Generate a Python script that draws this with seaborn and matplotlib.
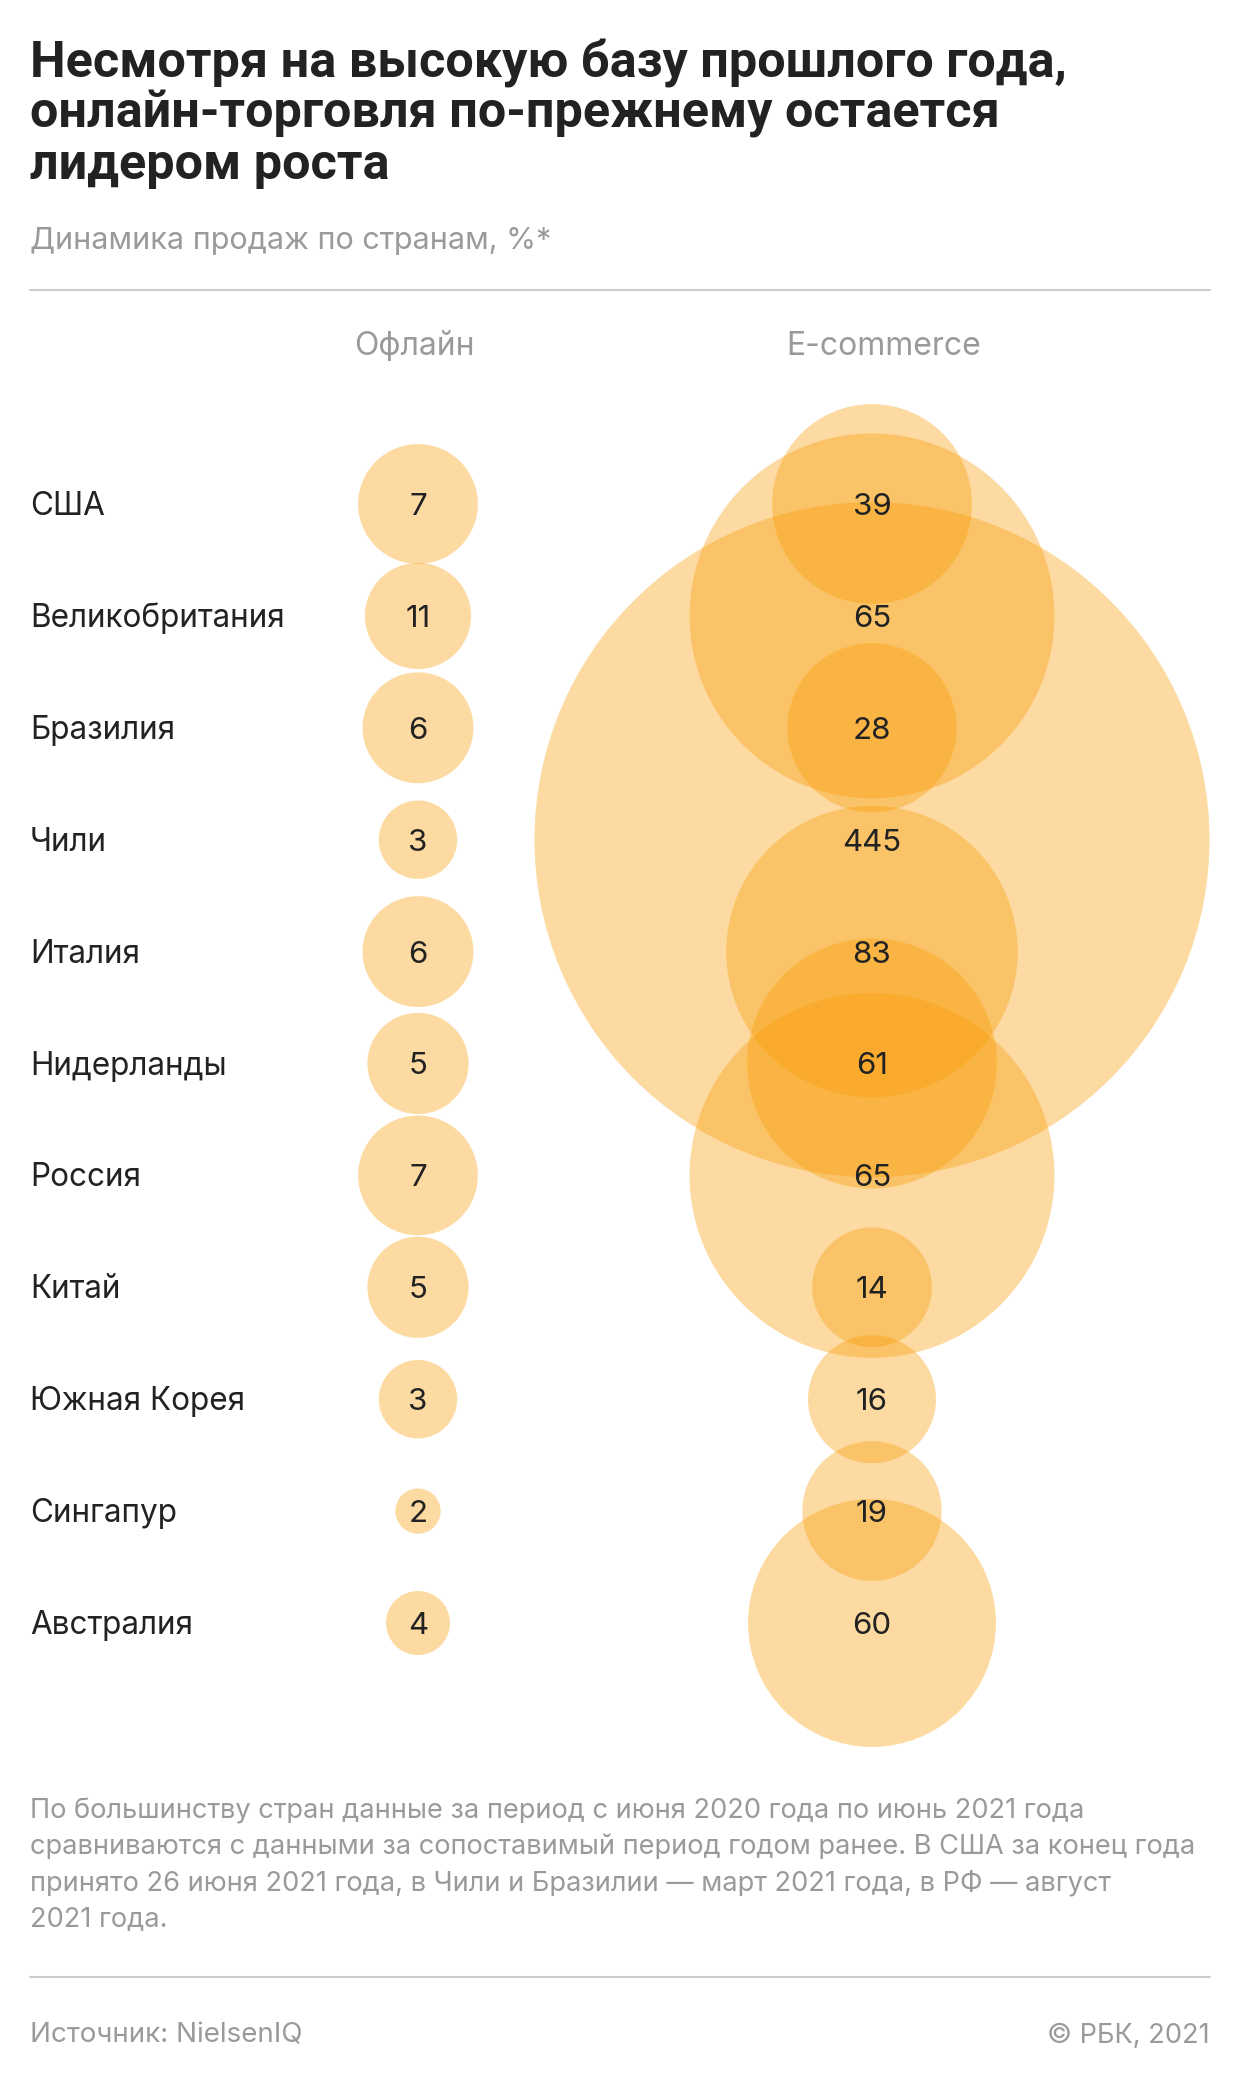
import matplotlib
matplotlib.use("Agg")
import matplotlib.pyplot as plt
import matplotlib.transforms as mtransforms
import seaborn as sns
import pandas as pd

# ---------------- data ----------------
countries = ["США", "Великобритания", "Бразилия", "Чили", "Италия", "Нидерланды",
             "Россия", "Китай", "Южная Корея", "Сингапур", "Австралия"]
columns = ["Офлайн", "E-commerce"]
offline_labels = [7, 11, 6, 3, 6, 5, 7, 5, 3, 2, 4]
ecom_labels = [39, 65, 28, 445, 83, 61, 65, 14, 16, 19, 60]
# bubble magnitudes as drawn in the reference (area-proportional)
offline_bubble = [14, 11, 12, 6, 12, 10, 14, 10, 6, 2, 4]
ecom_bubble = [39, 130, 28, 445, 83, 61, 130, 14, 16, 19, 60]

title_lines = ["Несмотря на высокую базу прошлого года,",
               "онлайн-торговля по-прежнему остается",
               "лидером роста"]
subtitle = "Динамика продаж по странам, %*"
footnote_lines = [
    "По большинству стран данные за период с июня 2020 года по июнь 2021 года",
    "сравниваются с данными за сопоставимый период годом ранее. В США за конец года",
    "принято 26 июня 2021 года, в Чили и Бразилии — март 2021 года, в РФ — август",
    "2021 года.",
]
source_txt = "Источник: NielsenIQ"
copyright_txt = "© РБК, 2021"

# ---------------- style ----------------
W, H = 1240, 2084
DARK = "#222222"
GRAY = "#9a9a9a"
RULE = "#cccccc"
BUBBLE = "#FA9E0A"
BODY = ["Inter", "DejaVu Sans"]
HEAD = ["Roboto", "DejaVu Sans"]

sns.set_theme(style="white")
plt.rcParams["font.family"] = BODY

df = pd.DataFrame({
    "kind": [columns[0]] * len(countries) + [columns[1]] * len(countries),
    "country": countries + countries,
    "label": offline_labels + ecom_labels,
    "bubble": offline_bubble + ecom_bubble,
})

fig = plt.figure(figsize=(W / 100, H / 100), dpi=100)
fig.patch.set_facecolor("white")
ax = fig.add_axes([0, 0, 1, 1])
ax.set_axis_off()

# size: radius 16 px per sqrt(unit) -> s(pt^2) = (2*16*0.72)^2 * v
s_per_unit = (2 * 16 * 0.72) ** 2
vmax = max(ecom_bubble)
sns.scatterplot(data=df, x="kind", y="country", size="bubble",
                sizes=(0, s_per_unit * vmax), size_norm=(0, vmax),
                color=BUBBLE, alpha=0.38, edgecolor="none", linewidth=0,
                legend=False, ax=ax, zorder=2)

# map category codes to pixel positions
x0, dx = 418, 454
y0, dy = 504, 111.9
ax.set_xlim(-x0 / dx, (W - x0) / dx)
ax.set_ylim((H - y0) / dy, -y0 / dy)

def fy(px):
    return 1 - px / H

def fx(px):
    return px / W

num_fs = 22.5
lab_trans = mtransforms.offset_copy(ax.transData, fig=fig, x=0, y=-11, units="dots")
for i in range(len(countries)):
    ax.text(0, i, str(offline_labels[i]), ha="center", va="baseline",
            fontsize=num_fs, color=DARK, transform=lab_trans, zorder=5)
    ax.text(1, i, str(ecom_labels[i]), ha="center", va="baseline",
            fontsize=num_fs, color=DARK, transform=lab_trans, zorder=5)

country_trans = mtransforms.offset_copy(
    mtransforms.blended_transform_factory(fig.transFigure, ax.transData),
    fig=fig, x=0, y=-11, units="dots")
for i, c in enumerate(countries):
    ax.text(fx(30), i, c, ha="left", va="baseline", fontsize=22.7,
            color=DARK, transform=country_trans, zorder=5)

# titles
for k, (line, base) in enumerate(zip(title_lines, [77, 128, 179])):
    fig.text(fx(30), fy(base), line, ha="left", va="baseline", fontsize=36.3,
             fontweight="bold", color=DARK, family=HEAD)
fig.text(fx(30), fy(249), subtitle, ha="left", va="baseline", fontsize=22, color=GRAY)

# headers
fig.text(fx(414), fy(355), columns[0], ha="center", va="baseline", fontsize=23, color=GRAY)
fig.text(fx(884), fy(355), columns[1], ha="center", va="baseline", fontsize=23, color=GRAY)

# rules
for yy in (290, 1977):
    fig.add_artist(plt.Line2D([fx(30), fx(1210)], [fy(yy), fy(yy)],
                              transform=fig.transFigure, color=RULE, lw=1.5))

# footnote
for k, line in enumerate(footnote_lines):
    fig.text(fx(30), fy(1818 + 36 * k), line, ha="left", va="baseline",
             fontsize=19.6, color=GRAY)

fig.text(fx(30), fy(2043), source_txt, ha="left", va="baseline", fontsize=20, color=GRAY)
fig.text(fx(1210), fy(2043), copyright_txt, ha="right", va="baseline", fontsize=19.6, color=GRAY)

fig.savefig("out.png", dpi=100, facecolor="white")
